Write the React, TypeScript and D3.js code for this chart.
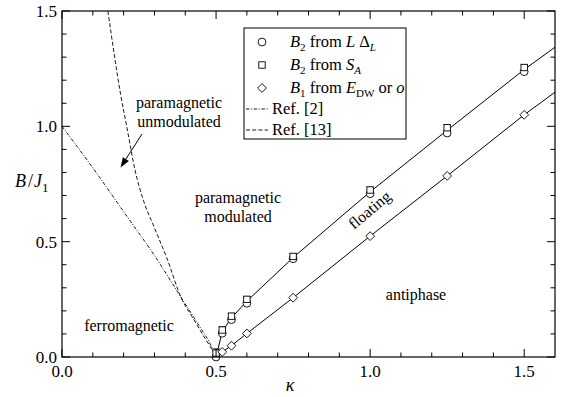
import React from "react";
import * as d3 from "d3";

// Phase diagram B/J1 versus kappa
const kappaB2 = [0.5, 0.52, 0.55, 0.6, 0.75, 1.0, 1.25, 1.5];
const b2FromL = [0.0, 0.103, 0.162, 0.233, 0.426, 0.708, 0.971, 1.237];
const b2FromS = [0.017, 0.117, 0.177, 0.25, 0.436, 0.724, 0.994, 1.255];
const b2SErr = [0.018, 0.014, 0.012, 0.012, 0.012, 0.012, 0.012, 0.012];

const kappaB1 = [0.52, 0.55, 0.6, 0.75, 1.0, 1.25, 1.5];
const b1FromE = [0.022, 0.049, 0.102, 0.257, 0.524, 0.785, 1.05];

const upperKappa = [0.5, 0.52, 0.55, 0.6, 0.75, 1.0, 1.25, 1.5, 1.6];
const upperB = [0, 0.11, 0.17, 0.242, 0.431, 0.716, 0.983, 1.246, 1.343];
const lowerKappa = [0.5, 0.52, 0.55, 0.6, 0.75, 1.0, 1.25, 1.5, 1.6];
const lowerB = [0, 0.022, 0.049, 0.102, 0.257, 0.524, 0.785, 1.05, 1.148];

const ref2Kappa = [0, 0.1, 0.2, 0.3, 0.4, 0.45, 0.48, 0.5];
const ref2B = [1.0, 0.82, 0.63, 0.44, 0.23, 0.125, 0.06, 0];

const ref13Kappa = [0.149, 0.172, 0.19, 0.21, 0.237, 0.264, 0.3, 0.34, 0.389, 0.42, 0.46, 0.49, 0.5];
const ref13B = [1.5, 1.29, 1.14, 1.0, 0.81, 0.68, 0.56, 0.43, 0.25, 0.18, 0.09, 0.025, 0];

const xTickLabels = ["0.0", "0.5", "1.0", "1.5"];
const yTickLabels = ["0.0", "0.5", "1.0", "1.5"];

const W = 563;
const H = 397;
const L = 62, R = 555, T = 11, B = 357;
const FONT = '"Liberation Serif", "Times New Roman", Times, "DejaVu Serif", "Noto Serif", serif';

export default function App() {
  const x = d3.scaleLinear().domain([0, 1.6]).range([L, R]);
  const y = d3.scaleLinear().domain([0, 1.5]).range([B, T]);

  const toPts = (ks: number[], bs: number[]) => ks.map((k, i) => [k, bs[i]] as [number, number]);
  const straight = d3.line<[number, number]>().x((d) => x(d[0])).y((d) => y(d[1]));
  const smooth = d3
    .line<[number, number]>()
    .x((d) => x(d[0]))
    .y((d) => y(d[1]))
    .curve(d3.curveMonotoneX);

  const xMinor = d3.range(0, 17).map((i) => i / 10).filter((v) => v < 1.6);
  const yMinor = d3.range(0, 16).map((i) => i / 10);
  const isMajor = (v: number) => Math.abs(v * 2 - Math.round(v * 2)) < 1e-6;

  const tickLines: React.ReactNode[] = [];
  xMinor.forEach((v, i) => {
    const len = isMajor(v) ? 8 : 4.5;
    const px = x(v);
    tickLines.push(<line key={"xb" + i} x1={px} x2={px} y1={B} y2={B - len} />);
    tickLines.push(<line key={"xt" + i} x1={px} x2={px} y1={T} y2={T + len} />);
  });
  yMinor.forEach((v, i) => {
    const len = isMajor(v) ? 8 : 4.5;
    const py = y(v);
    tickLines.push(<line key={"yl" + i} x1={L} x2={L + len} y1={py} y2={py} />);
    tickLines.push(<line key={"yr" + i} x1={R} x2={R - len} y1={py} y2={py} />);
  });

  const diamond = (cx: number, cy: number, r: number) =>
    `M${cx},${cy - r}L${cx + r},${cy}L${cx},${cy + r}L${cx - r},${cy}Z`;

  const dashDot = "3.5,1.6,1,1.6";
  const dashed = "4,2.2";

  // arrow from the upper label to the unmodulated region
  const ax1 = 142, ay1 = 134, ax2 = 120.5, ay2 = 167.5;
  const ang = Math.atan2(ay2 - ay1, ax2 - ax1);
  const hl = 10, hw = 3.6;
  const bx = ax2 - hl * Math.cos(ang), by = ay2 - hl * Math.sin(ang);
  const head = `M${ax2},${ay2}L${bx + hw * Math.sin(ang)},${by - hw * Math.cos(ang)}L${bx - hw * Math.sin(ang)},${by + hw * Math.cos(ang)}Z`;

  const legendRows = [42, 65, 88, 109, 130];

  return (
    <svg
      width={W}
      height={H}
      viewBox={`0 0 ${W} ${H}`}
      style={{ position: "absolute", left: 0, top: 0, background: "#fff", fontFamily: FONT }}
    >
      <rect x={0} y={0} width={W} height={H} fill="#fff" />

      {/* reference curves */}
      <path d={smooth(toPts(ref2Kappa, ref2B)) || ""} fill="none" stroke="#000" strokeWidth={0.9} strokeDasharray={dashDot} />
      <path d={smooth(toPts(ref13Kappa, ref13B)) || ""} fill="none" stroke="#000" strokeWidth={0.9} strokeDasharray={dashed} />

      {/* phase boundaries */}
      <path d={straight(toPts(upperKappa, upperB)) || ""} fill="none" stroke="#000" strokeWidth={1} />
      <path d={straight(toPts(lowerKappa, lowerB)) || ""} fill="none" stroke="#000" strokeWidth={1} />

      {/* B2 from S_A with error bars */}
      {kappaB2.map((k, i) => {
        const px = x(k);
        const y1 = y(b2FromS[i] - b2SErr[i]);
        const y2 = y(b2FromS[i] + b2SErr[i]);
        return (
          <g key={"eb" + i} stroke="#000" strokeWidth={0.9}>
            <line x1={px} x2={px} y1={y1} y2={y2} />
            <line x1={px - 3.5} x2={px + 3.5} y1={y1} y2={y1} />
            <line x1={px - 3.5} x2={px + 3.5} y1={y2} y2={y2} />
          </g>
        );
      })}
      {kappaB2.map((k, i) => (
        <circle key={"c" + i} cx={x(k)} cy={y(b2FromL[i])} r={3.9} fill="#fff" stroke="#000" strokeWidth={0.9} />
      ))}
      {kappaB2.map((k, i) => (
        <rect key={"s" + i} x={x(k) - 3.2} y={y(b2FromS[i]) - 3.2} width={6.4} height={6.4} fill="#fff" stroke="#000" strokeWidth={0.9} />
      ))}
      {kappaB1.map((k, i) => (
        <path key={"d" + i} d={diamond(x(k), y(b1FromE[i]), 4.4)} fill="#fff" stroke="#000" strokeWidth={0.9} />
      ))}

      {/* frame and ticks */}
      <g stroke="#000" strokeWidth={1}>{tickLines}</g>
      <rect x={L} y={T} width={R - L} height={B - T} fill="none" stroke="#000" strokeWidth={1.2} />

      {/* tick labels */}
      <g fontSize={17} fill="#000">
        {xTickLabels.map((t) => (
          <text key={"xl" + t} x={x(+t)} y={377} textAnchor="middle">{t}</text>
        ))}
        {yTickLabels.map((t) => (
          <text key={"yl" + t} x={57} y={y(+t)} dy="0.35em" textAnchor="end">{t}</text>
        ))}
      </g>

      {/* axis titles */}
      <text x={290} y={391} fontSize={18} fontStyle="italic" textAnchor="middle">κ</text>
      <text x={15} y={187} fontSize={18}>
        <tspan fontStyle="italic">B</tspan>
        <tspan dx={2}>/</tspan>
        <tspan fontStyle="italic" dx={1}>J</tspan>
        <tspan fontSize={13} dy={5}>1</tspan>
      </text>

      {/* region labels */}
      <g fontSize={16} textAnchor="middle">
        <text x={179} y={108}>paramagnetic</text>
        <text x={179} y={127}>unmodulated</text>
        <text x={238} y={203}>paramagnetic</text>
        <text x={238} y={222}>modulated</text>
        <text x={129} y={331}>ferromagnetic</text>
        <text x={416} y={300}>antiphase</text>
        <text transform="translate(373,214) rotate(-40)">floating</text>
      </g>

      {/* arrow */}
      <line x1={ax1} y1={ay1} x2={bx} y2={by} stroke="#000" strokeWidth={1} />
      <path d={head} fill="#000" />

      {/* legend */}
      <rect x={244} y={28} width={162} height={111} fill="#fff" stroke="#000" strokeWidth={1} />
      <circle cx={262} cy={legendRows[0]} r={3.9} fill="#fff" stroke="#000" strokeWidth={0.9} />
      <rect x={262 - 3.2} y={legendRows[1] - 3.2} width={6.4} height={6.4} fill="#fff" stroke="#000" strokeWidth={0.9} />
      <path d={diamond(262, legendRows[2], 4.4)} fill="#fff" stroke="#000" strokeWidth={0.9} />
      <line x1={246} x2={268} y1={legendRows[3]} y2={legendRows[3]} stroke="#000" strokeWidth={0.9} strokeDasharray={dashDot} />
      <line x1={246} x2={268} y1={legendRows[4]} y2={legendRows[4]} stroke="#000" strokeWidth={0.9} strokeDasharray={dashed} />
      <g fontSize={16.5}>
        <text x={290} y={legendRows[0] + 5}>
          <tspan fontStyle="italic">B</tspan>
          <tspan fontSize={11} dy={4}>2</tspan>
          <tspan dy={-4}> from </tspan>
          <tspan fontStyle="italic">L</tspan>
          <tspan> Δ</tspan>
          <tspan fontSize={11} fontStyle="italic" dy={4}>L</tspan>
        </text>
        <text x={290} y={legendRows[1] + 5}>
          <tspan fontStyle="italic">B</tspan>
          <tspan fontSize={11} dy={4}>2</tspan>
          <tspan dy={-4}> from </tspan>
          <tspan fontStyle="italic">S</tspan>
          <tspan fontSize={11} fontStyle="italic" dy={4}>A</tspan>
        </text>
        <text x={290} y={legendRows[2] + 5}>
          <tspan fontStyle="italic">B</tspan>
          <tspan fontSize={11} dy={4}>1</tspan>
          <tspan dy={-4}> from </tspan>
          <tspan fontStyle="italic">E</tspan>
          <tspan fontSize={11} dy={4}>DW</tspan>
          <tspan dy={-4}> or </tspan>
          <tspan fontStyle="italic">o</tspan>
        </text>
        <text x={272} y={legendRows[3] + 5}>Ref. [2]</text>
        <text x={272} y={legendRows[4] + 5}>Ref. [13]</text>
      </g>
    </svg>
  );
}
